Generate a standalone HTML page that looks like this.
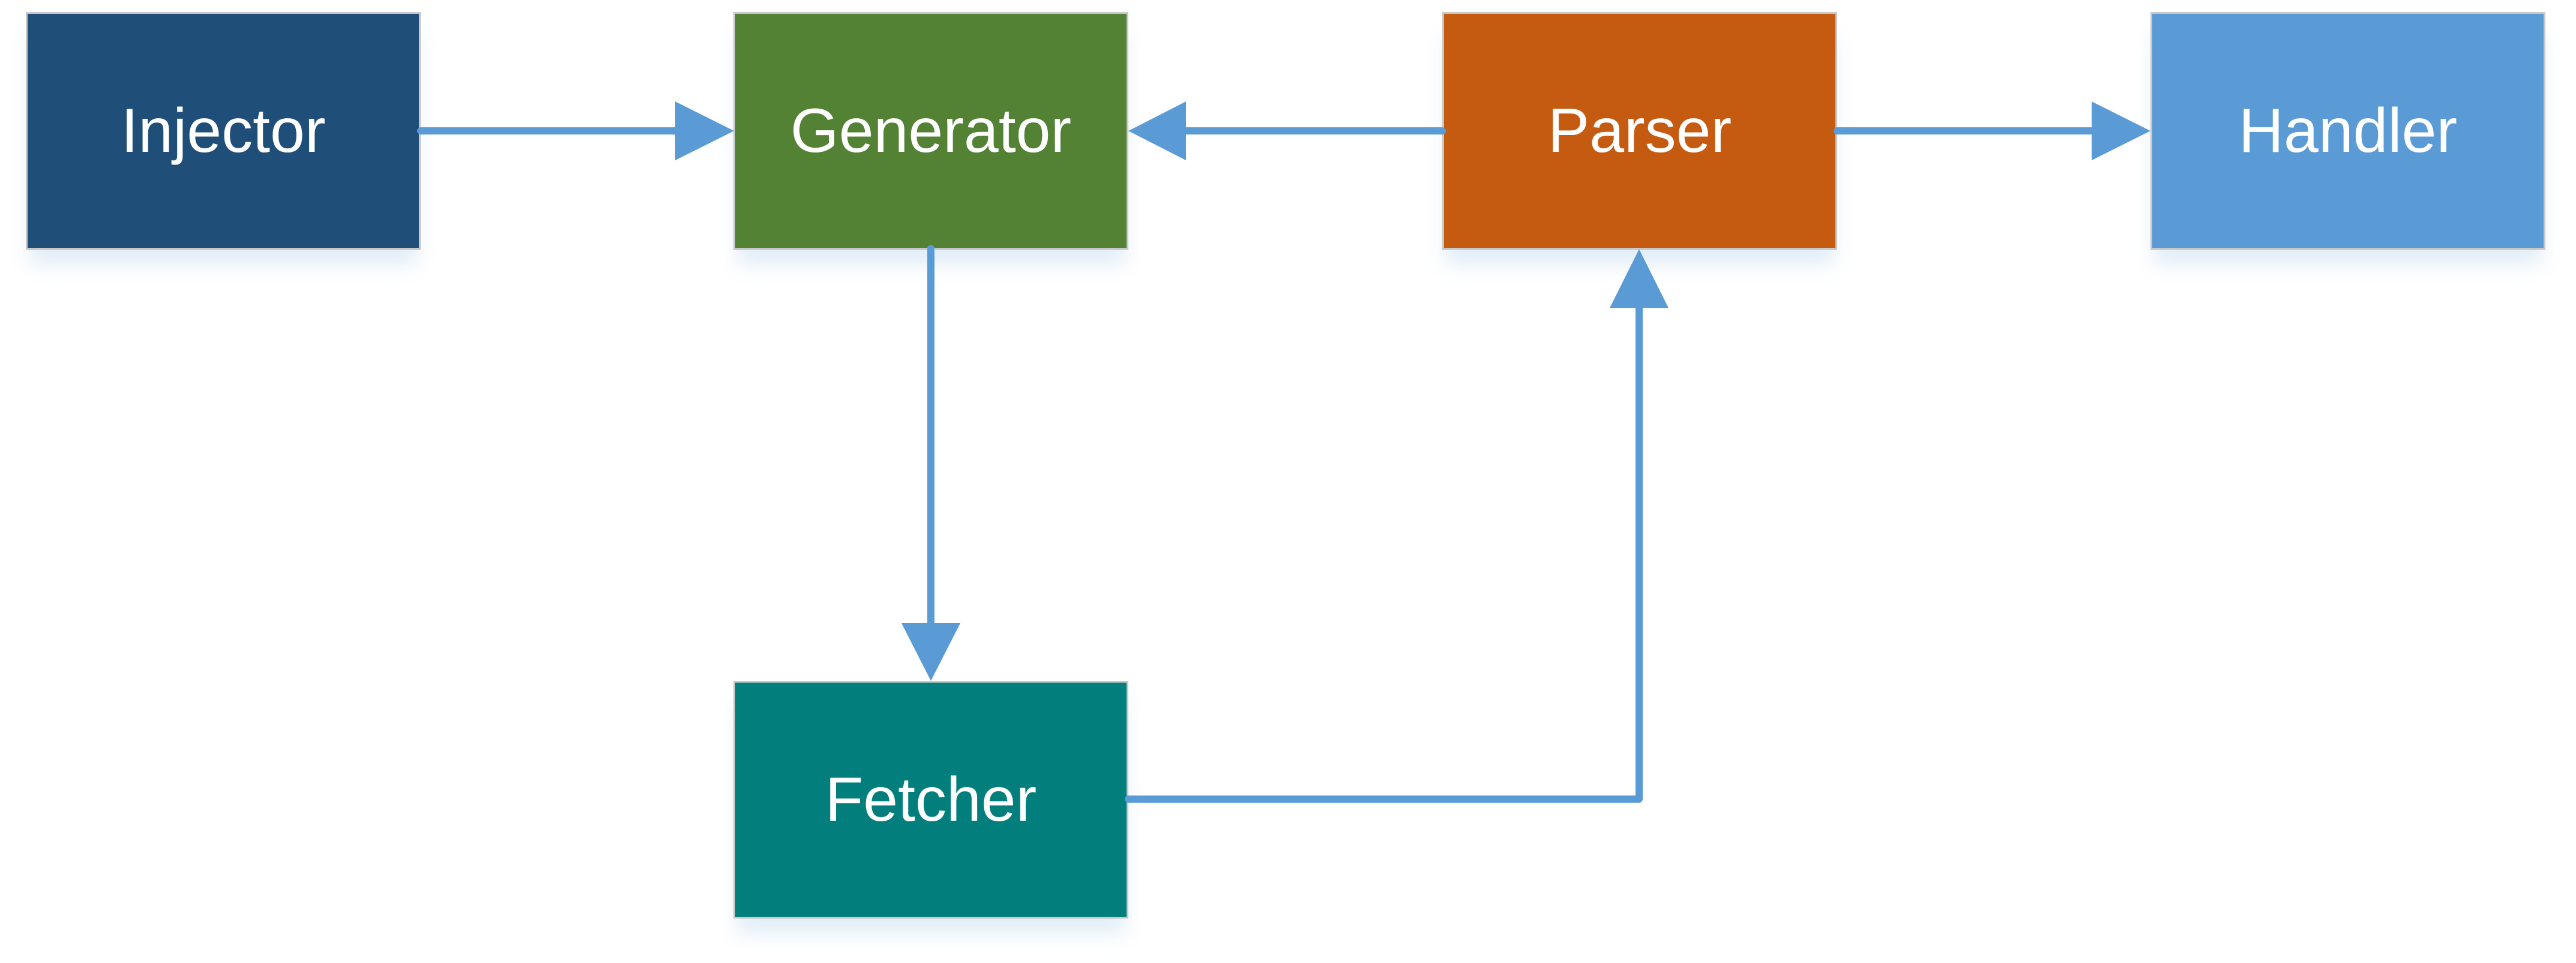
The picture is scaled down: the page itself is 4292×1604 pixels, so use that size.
<!DOCTYPE html>
<html><head><meta charset="utf-8"><style>
html,body{margin:0;padding:0;background:#fff;}
body{width:4292px;height:1604px;position:relative;overflow:hidden;font-family:"Liberation Sans",sans-serif;}
.b{position:absolute;box-sizing:border-box;border:3px solid #c8c8c8;color:#fff;font-size:104px;display:flex;align-items:center;justify-content:center;box-shadow:0 30px 30px -6px rgba(91,155,213,0.18);}
svg{position:absolute;left:0;top:0;}
</style></head><body>
<div class="b" style="left:43px;top:20px;width:658px;height:396px;background:#1F4E79;">Injector</div>
<div class="b" style="left:1222px;top:20px;width:658px;height:396px;background:#548235;">Generator</div>
<div class="b" style="left:2403px;top:20px;width:658px;height:396px;background:#C55A11;">Parser</div>
<div class="b" style="left:3583px;top:20px;width:658px;height:396px;background:#5B9BD5;">Handler</div>
<div class="b" style="left:1222px;top:1134px;width:658px;height:396px;background:#027F7D;">Fetcher</div>
<svg width="4292" height="1604" viewBox="0 0 4292 1604">
<g stroke="#5B9BD5" stroke-width="12" fill="none" stroke-linecap="round" stroke-linejoin="round">
<line x1="701" y1="218" x2="1130" y2="218"/>
<line x1="1970" y1="218" x2="2403" y2="218"/>
<line x1="3061" y1="218" x2="3490" y2="218"/>
<line x1="1551" y1="414" x2="1551" y2="1045"/>
<polyline points="1880,1331 2731,1331 2731,505"/>
</g>
<g fill="#5B9BD5">
<polygon points="1125,169 1223,218 1125,267"/>
<polygon points="1976,169 1880,218 1976,267"/>
<polygon points="3485,169 3583,218 3485,267"/>
<polygon points="1502,1038 1600,1038 1551,1134"/>
<polygon points="2682,513 2780,513 2731,415"/>
</g>
</svg>
</body></html>
